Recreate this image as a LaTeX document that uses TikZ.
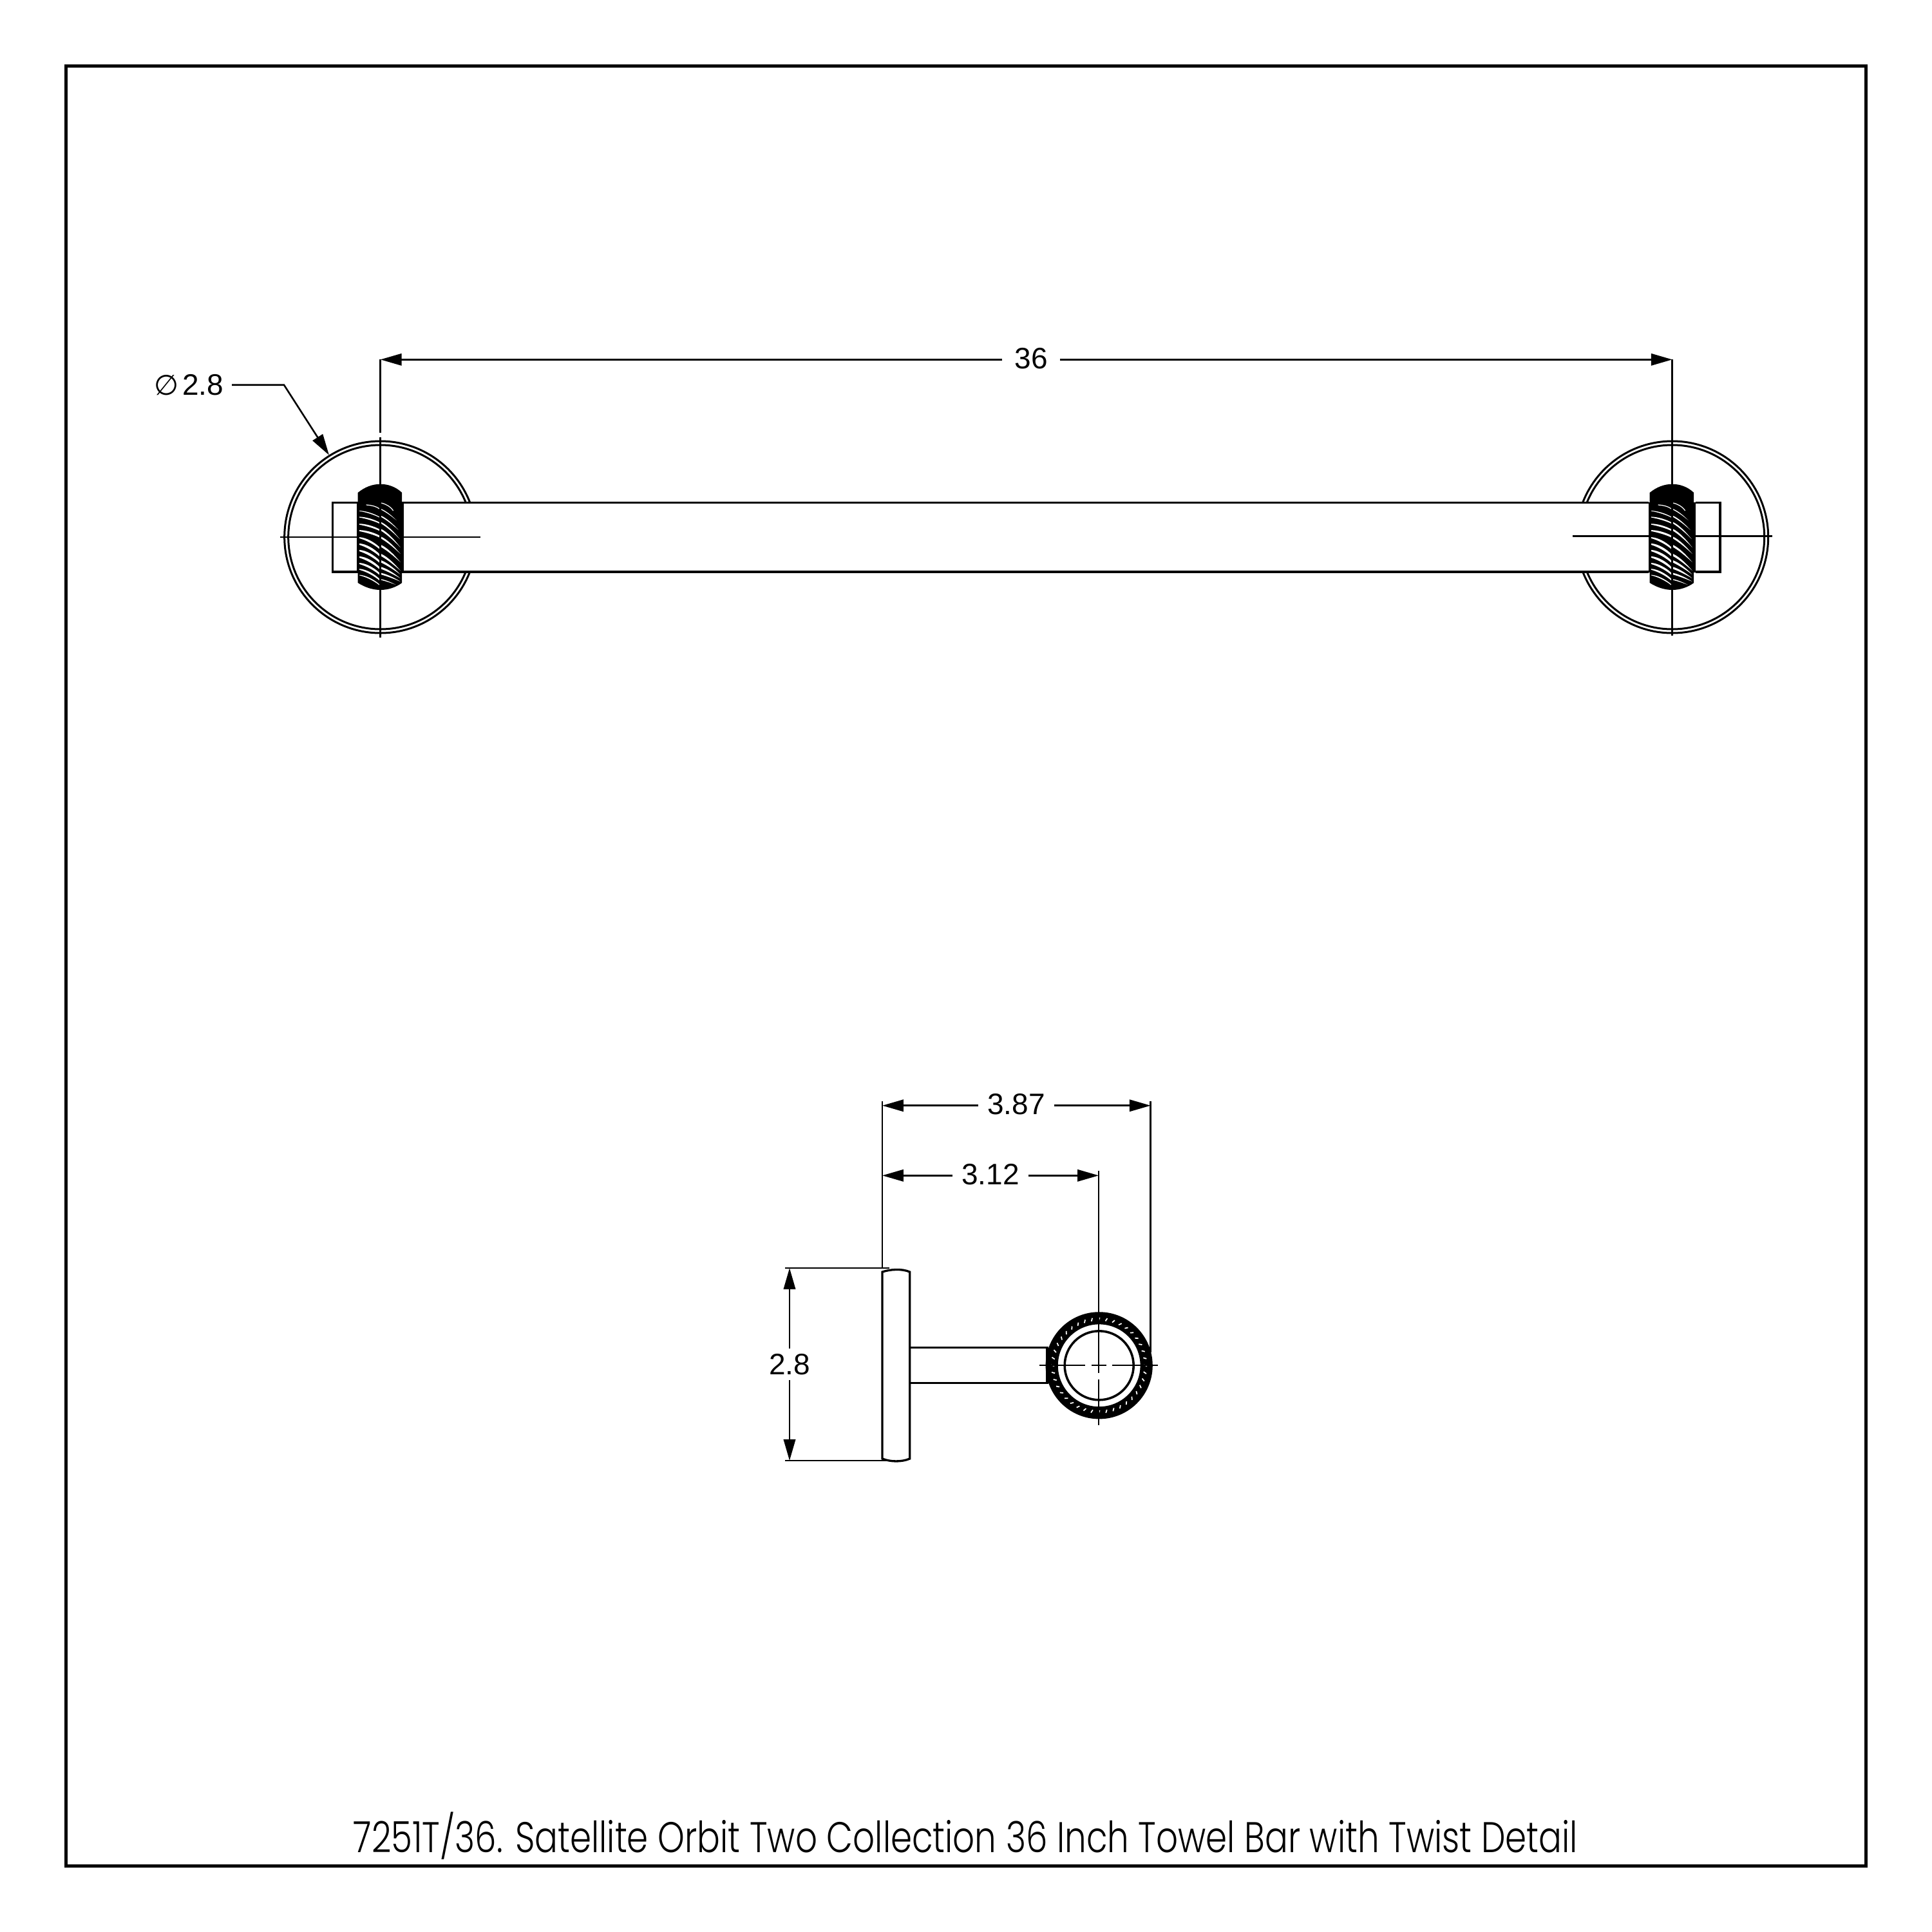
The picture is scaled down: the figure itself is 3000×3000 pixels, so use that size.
\documentclass[tikz,border=0pt]{standalone}
\usepackage{fontspec}
\usetikzlibrary{arrows.meta}
\setmainfont{Liberation Sans}
\newfontfamily\phifont{DejaVu Sans}
\newfontfamily\titlefont{Poppins Light}
\tikzset{
  part/.style={line width=0.8pt,draw=black},
  thinl/.style={line width=0.62pt,draw=black},
  dimline/.style={line width=0.62pt,draw=black,-{Triangle[length=7.9pt,width=4.4pt,fill=black]}},
  dimtext/.style={font=\fontsize{11.04}{13}\selectfont,inner xsep=4.6pt,inner ysep=1.9pt,outer sep=0pt},
  stripethin/.style={draw=white,line width=0.3pt},
}
% left half stripe: y at edge, y at centre, half width
\newcommand{\stripeL}[3]{%
  \pgfmathsetmacro{\dl}{(#2-#1)}%
  \fill[white] (-32.5,#1-#3*0.6) .. controls (-22,#1-#3+\dl*0.08) and (-10,#1-#3+\dl*0.5) .. (-1.5,#2-#3)
     -- (-1.5,#2+#3) .. controls (-10,#1+#3+\dl*0.55) and (-22,#1+#3+\dl*0.15) .. (-32.5,#1+#3*0.6) -- cycle;}
% right half stripe: y at centre, end x, y at end, half width at centre
\newcommand{\stripeR}[4]{%
  \pgfmathsetmacro{\dr}{(#3-#1)}%
  \fill[white] (1.5,#1-#4) .. controls (#2*0.35,#1-#4+\dr*0.18) and (#2*0.7,#1-#4*0.6+\dr*0.58) .. (#2,#3)
     .. controls (#2*0.7,#1+#4*0.7+\dr*0.6) and (#2*0.35,#1+#4+\dr*0.22) .. (1.5,#1+#4) -- cycle;}
% twist grip centred at x=0 in local coordinates (y stays absolute)
\newcommand{\twistgrip}[1]{%
  \begin{scope}[shift={(#1,0)}]
    \fill[black] (-36.5,780) rectangle (36.5,889);
    \fill[black] (-35,765) .. controls (-24,756) and (-12,751.7) .. (0,751.7)
       .. controls (12,751.7) and (24,756) .. (33.5,765) -- (33.5,905)
       .. controls (24,912) and (12,916) .. (0,916)
       .. controls (-12,916) and (-24,912) .. (-35,905) -- cycle;
    \begin{scope}
      \clip (-33,770) rectangle (31.5,914);
      \stripeL{793.3}{803}{0.6}
      \stripeL{803}{812}{1.0}
      \stripeL{814}{823}{1.3}
      \stripeL{824}{833}{1.5}
      \stripeL{835}{851}{1.5}
      \stripeL{845}{862}{1.8}
      \stripeL{855}{872}{1.8}
      \stripeL{865}{882}{1.8}
      \stripeL{875}{891}{1.6}
      \stripeL{884}{900}{1.3}
      \stripeL{893}{908}{0.7}
      \draw[stripethin] (-22,784) .. controls (-14,784.5) and (-7,786) .. (-1.5,790);
      \stripeR{791}{25}{808}{0.7}
      \stripeR{802}{28}{823}{1.0}
      \stripeR{812}{30}{837}{1.2}
      \stripeR{823}{31}{850}{1.5}
      \stripeR{835}{31}{860}{1.5}
      \stripeR{848}{31}{873}{1.7}
      \stripeR{862}{31}{886}{1.8}
      \stripeR{872}{31}{892}{1.8}
      \stripeR{882}{31}{898}{1.6}
      \stripeR{891}{31}{903}{1.3}
      \stripeR{900}{24}{908}{0.7}
      \draw[stripethin] (1.5,781) .. controls (8,782.5) and (15,786) .. (20,793);
    \end{scope}
  \end{scope}}
\begin{document}
\begin{tikzpicture}[x=0.24pt,y=-0.24pt]
\useasboundingbox (0,0) rectangle (3000,3000);
\draw[line width=1.2pt] (102.5,102.5) rectangle (2897.5,2897.5);

% front view: roses
\foreach \cx in {590.7,2596.7}{
  \draw[line width=0.72pt] (\cx,834) circle [radius=149];
  \draw[line width=0.72pt] (\cx,834) circle [radius=143];
}
% bar and stubs
\fill[white] (516.7,780.7) rectangle (2671,888);
\draw[part] (556,780.7) -- (516.7,780.7) -- (516.7,888) -- (556,888);
\draw[part] (2633,780.7) -- (2671,780.7) -- (2671,888) -- (2633,888);
\draw[part] (624,780.7) -- (2560,780.7);
\draw[part] (624,888) -- (2560,888);
% centre lines
\draw[thinl] (435,834) -- (746,834);
\draw[thinl] (2441.7,832.3) -- (2752,832.3);
\twistgrip{590.7}
\twistgrip{2596.7}
\draw[thinl] (590.7,558.3) -- (590.7,671.7);
\draw[thinl] (590.7,679) -- (590.7,990);
\draw[thinl] (2596.7,558.3) -- (2596.7,987);

% dimension 36
\coordinate (d36a) at (590.7,558.3);
\coordinate (d36b) at (2596.7,558.3);
\node[dimtext] (t36) at (1601,556.3) {36};
\draw[dimline] (t36.west |- d36a) -- (d36a);
\draw[dimline] (t36.east |- d36b) -- (d36b);

% leader diameter 2.8
\coordinate (ldrk) at (441,597.7);
\coordinate (ldrtip) at (511,706.7);
\node[font=\fontsize{11.04}{13}\selectfont,anchor=base east,inner xsep=2.9pt,inner ysep=0pt] (phi) at (360,613.5)
  {{\phifont\fontsize{10.5}{13}\selectfont ∅}\kern1.4pt 2.8};
\draw[dimline] (phi.base east |- ldrk) -- (ldrk) -- (ldrtip);

% side view
\draw[part,fill=white] (1370,1975) .. controls (1382,1971) and (1400,1969.5) .. (1412.7,1975) -- (1412.7,2265)
  .. controls (1400,2270.5) and (1382,2270) .. (1370,2265) -- cycle;
\draw[part] (1412.7,2092.7) -- (1626,2092.7) -- (1626,2147.3) -- (1412.7,2147.3);
\draw[line width=4.6pt] (1706.7,2120.3) circle [radius=73.5];
\foreach \i in {0,...,39}{
  \pgfmathsetmacro{\t}{\i*9}
  \pgfmathsetmacro{\r}{\t-18-24*abs(sin(2*\t))}
  \draw[white,line width=0.42pt] ({1706.7+72*cos(\t)-2.6*cos(\r)},{2120.3-72*sin(\t)+2.6*sin(\r)})
     -- ({1706.7+72*cos(\t)+2.6*cos(\r)},{2120.3-72*sin(\t)-2.6*sin(\r)});
}
\draw[line width=0.85pt] (1706.7,2120.3) circle [radius=53.5];
\draw[thinl] (1614,2120) -- (1685,2120);
\draw[thinl] (1695,2120) -- (1718.3,2120);
\draw[thinl] (1727,2120) -- (1798.3,2120);
\draw[thinl] (1706,1818) -- (1706,2131.7);
\draw[thinl] (1706,2141.7) -- (1706,2212.7);
\draw[thinl] (1786.7,1710) -- (1786.7,2100);
\draw[thinl] (1370,1710) -- (1370,1969);

% dimension 3.87
\coordinate (d387a) at (1370,1716.7);
\coordinate (d387b) at (1786.7,1716.7);
\node[dimtext,inner xsep=3.4pt] (t387) at (1578,1714.7) {3.87};
\draw[dimline] (t387.west |- d387a) -- (d387a);
\draw[dimline] (t387.east |- d387b) -- (d387b);
% dimension 3.12
\coordinate (d312a) at (1370,1825.3);
\coordinate (d312b) at (1706,1825.3);
\node[dimtext,inner xsep=3.4pt] (t312) at (1538,1823.3) {3.12};
\draw[dimline] (t312.west |- d312a) -- (d312a);
\draw[dimline] (t312.east |- d312b) -- (d312b);
% dimension 2.8
\draw[thinl] (1219,1969) -- (1381,1969);
\draw[thinl] (1219,2268) -- (1377,2268);
\coordinate (d28a) at (1226,1969);
\coordinate (d28b) at (1226,2268);
\node[dimtext] (t28) at (1226,2118.5) {2.8};
\draw[dimline] (t28.north) -- (d28a);
\draw[dimline] (t28.south) -- (d28b);

% title
\node[anchor=base,inner sep=0pt] (title) at (1499.3,2876)
  {\scalebox{0.797}[1]{\titlefont\fontsize{16}{18}\selectfont 7251T/36. Satellite Orbit Two Collection 36 Inch Towel Bar with Twist Detail}};
\end{tikzpicture}
\end{document}
